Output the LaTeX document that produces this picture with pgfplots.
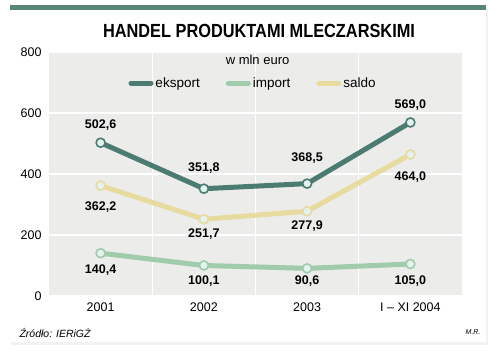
\documentclass[border=0pt]{standalone}
\usepackage{fontspec}
\setmainfont{Liberation Sans}
\usepackage{graphicx}
\usepackage{pgfplots}
\pgfplotsset{compat=1.18}
\definecolor{eksp}{RGB}{76,124,113}
\definecolor{imp}{RGB}{160,204,172}
\definecolor{sal}{RGB}{231,219,160}
\definecolor{topbar}{RGB}{88,133,118}
\definecolor{plotbg}{RGB}{236,236,234}
\definecolor{mfill}{RGB}{228,242,240}
\begin{document}
\begin{tikzpicture}[x=1pt,y=1pt]
% page and card
\fill[white] (0,0) rectangle (500,-353);
\fill[black!5] (11,-7) rectangle (488,-345);
\fill[white] (9,-5) rectangle (486,-342);
\fill[topbar] (10,-5) rectangle (486,-10);
\node[font=\bfseries\fontsize{19}{19}\selectfont] at (259,-31) {\scalebox{0.86}[1]{HANDEL PRODUKTAMI MLECZARSKIMI}};
\node[font=\itshape\fontsize{10.5}{10.5}\selectfont, anchor=west] at (16,-333) {Źródło: IERiGŻ};
\node[font=\itshape\fontsize{7}{7}\selectfont, anchor=east] at (484,-332) {M.R.};
\begin{axis}[
  at={(49pt,-296pt)}, anchor=south west,
  scale only axis, width=413pt, height=244pt,
  xmin=-0.5, xmax=3.5, ymin=0, ymax=800,
  axis line style={draw=none},
  axis background/.style={fill=plotbg},
  xtick={0,1,2,3},
  xticklabels={2001,2002,2003,{I -- XI 2004}},
  ytick={0,200,400,600,800},
  extra x ticks={0.5,1.5,2.5}, extra x tick labels={},
  extra x tick style={grid=major, major grid style={white, line width=1.2pt}, major tick length=0pt},
  ymajorgrids, major grid style={white, line width=1.2pt},
  major tick length=0pt,
  tick label style={font=\fontsize{12.5}{12.5}\selectfont},
  /pgf/number format/assume math mode=true,
  xticklabel style={yshift=-3pt},
  yticklabel style={xshift=-4pt},
  legend columns=3,
  legend style={at={(axis cs:1.476,698)}, anchor=center, draw=none, fill=none,
    font=\fontsize{13.5}{13.5}\selectfont,
    /tikz/every even column/.append style={column sep=24pt}},
  legend image code/.code={\draw[#1, line width=5pt, line cap=round, mark=none] (2.5pt,0pt) -- (22.5pt,0pt);},
  clip=false,
]
\addplot[eksp, line width=5pt, mark=*, mark size=4.5pt, mark options={fill=mfill, draw=eksp, line width=1.6pt}]
  coordinates {(0,502.6) (1,351.8) (2,368.5) (3,569.0)};
\addlegendentry{eksport}
\addplot[imp, line width=5pt, mark=*, mark size=4.5pt, mark options={fill=mfill, draw=imp, line width=1.6pt}]
  coordinates {(0,140.4) (1,100.1) (2,90.6) (3,105.0)};
\addlegendentry{import}
\addplot[sal, line width=5pt, mark=*, mark size=4.5pt, mark options={fill=mfill, draw=sal, line width=1.6pt}]
  coordinates {(0,362.2) (1,251.7) (2,277.9) (3,464.0)};
\addlegendentry{saldo}
\node[font=\fontsize{13}{13}\selectfont] at (axis cs:1.52,774) {w mln euro};
% data labels
\begin{scope}[every node/.style={font=\bfseries\fontsize{12.5}{12.5}\selectfont}]
\node at (axis cs:0,560) {502,6};
\node at (axis cs:1,420) {351,8};
\node at (axis cs:2,452) {368,5};
\node at (axis cs:3,627) {569,0};
\node at (axis cs:0,290) {362,2};
\node at (axis cs:1,202) {251,7};
\node at (axis cs:2,228) {277,9};
\node at (axis cs:3,390) {464,0};
\node at (axis cs:0,85) {140,4};
\node at (axis cs:1,50) {100,1};
\node at (axis cs:2,50) {90,6};
\node at (axis cs:3,50) {105,0};
\end{scope}
\end{axis}
\end{tikzpicture}
\end{document}
